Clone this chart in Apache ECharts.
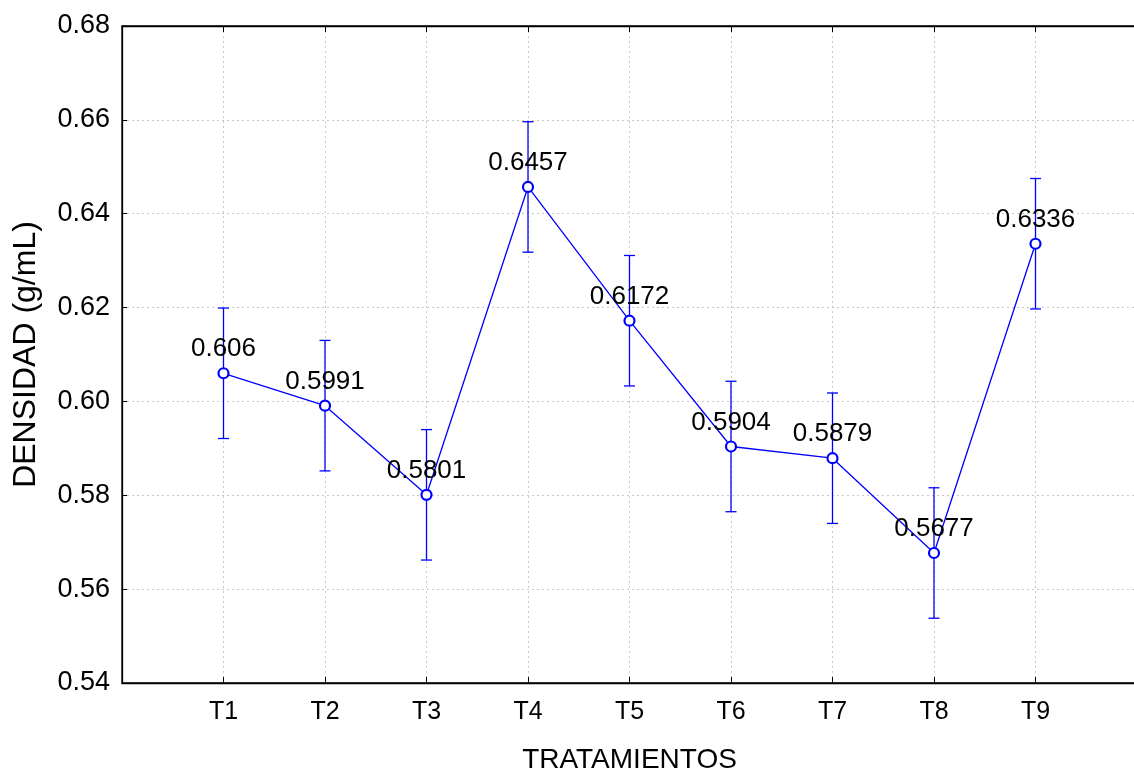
<!DOCTYPE html>
<html>
<head>
<meta charset="utf-8">
<script src="https://cdn.jsdelivr.net/npm/echarts@6/dist/echarts.min.js"></script>
<style>
  html, body { margin: 0; padding: 0; background: #fff; }
  #chart { width: 1134px; height: 773px; }
</style>
</head>
<body>
<div id="chart"></div>
<script>
// tratamientos y densidad media
var categories = ['T1', 'T2', 'T3', 'T4', 'T5', 'T6', 'T7', 'T8', 'T9'];
var densidad = [0.606, 0.5991, 0.5801, 0.6457, 0.6172, 0.5904, 0.5879, 0.5677, 0.6336];
var errores = [0.0139, 0.0139, 0.0139, 0.0139, 0.0139, 0.0139, 0.0139, 0.0139, 0.0139];

var puntos = densidad.map(function (v, i) { return [i + 1, v]; });
var barras = densidad.map(function (v, i) { return [i + 1, v - errores[i], v + errores[i]]; });

var chart = echarts.init(document.getElementById('chart'));
var font = 'Liberation Sans, Arial, sans-serif';

var option = {
    backgroundColor: '#fff',
    animation: false,
    grid: {
        left: 122, right: -3, top: 26, bottom: 90,
        outerBoundsMode: 'none',
        containLabel: false,
        show: true, borderColor: '#000', borderWidth: 1.3
    },
    xAxis: [{
        type: 'value', min: 0, max: 10, interval: 1,
        name: 'TRATAMIENTOS', nameLocation: 'middle', nameGap: 63,
        nameTextStyle: { fontFamily: font, fontSize: 28, color: '#000' },
        axisLine: { show: true, lineStyle: { color: '#000', width: 1.3 } },
        axisTick: { show: true, inside: true, length: 6, lineStyle: { color: '#000' } },
        axisLabel: {
            fontFamily: font, fontSize: 25, color: '#000', margin: 17,
            formatter: function (v) { return categories[v - 1] || ''; }
        },
        splitLine: { show: true, lineStyle: { color: '#c8c8c8', type: [2, 3] } }
    }, {
        type: 'value', min: 0, max: 10, interval: 1, position: 'top',
        axisLine: { show: true, lineStyle: { color: '#000', width: 1.3 } },
        axisTick: { show: true, inside: true, length: 6, lineStyle: { color: '#000' } },
        axisLabel: { show: false },
        splitLine: { show: false }
    }],
    yAxis: {
        type: 'value', min: 0.54, max: 0.68, interval: 0.02,
        name: 'DENSIDAD (g/mL)', nameLocation: 'middle', nameGap: 80,
        nameTextStyle: { fontFamily: font, fontSize: 32, color: '#000' },
        axisLine: { show: true, lineStyle: { color: '#000', width: 1.3 } },
        axisTick: { show: true, inside: true, length: 5, lineStyle: { color: '#000' } },
        axisLabel: {
            fontFamily: font, fontSize: 27, color: '#000', margin: 12,
            formatter: function (v) { return v.toFixed(2); }
        },
        splitLine: { show: true, lineStyle: { color: '#c8c8c8', type: [2, 3] } }
    },
    series: [{
        type: 'custom',
        data: barras,
        z: 2,
        renderItem: function (params, api) {
            var x = api.value(0);
            var lo = api.coord([x, api.value(1)]);
            var hi = api.coord([x, api.value(2)]);
            var w = 5.5;
            var st = { stroke: '#0000ff', lineWidth: 1.3 };
            return {
                type: 'group',
                children: [
                    { type: 'line', shape: { x1: lo[0], y1: lo[1], x2: hi[0], y2: hi[1] }, style: st },
                    { type: 'line', shape: { x1: lo[0] - w, y1: lo[1], x2: lo[0] + w, y2: lo[1] }, style: st },
                    { type: 'line', shape: { x1: hi[0] - w, y1: hi[1], x2: hi[0] + w, y2: hi[1] }, style: st }
                ]
            };
        }
    }, {
        type: 'line',
        data: puntos,
        z: 3,
        symbol: 'circle',
        symbolSize: 10,
        lineStyle: { color: '#0000ff', width: 1.3 },
        itemStyle: { color: '#fff', borderColor: '#0000ff', borderWidth: 2.2 },
        label: {
            show: true, position: 'top', distance: 5,
            fontFamily: font, fontSize: 26, color: '#000',
            formatter: function (p) { return String(p.value[1]); }
        }
    }]
};

chart.setOption(option);
</script>
</body>
</html>
